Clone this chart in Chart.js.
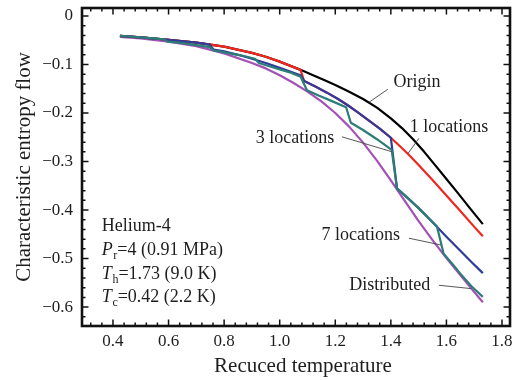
<!DOCTYPE html>
<html>
<head>
<meta charset="utf-8">
<script src="https://cdn.jsdelivr.net/npm/chart.js@4.4.1/dist/chart.umd.min.js"></script>
<style>
  html, body { margin: 0; padding: 0; background: #fff; }
</style>
</head>
<body>
<canvas id="chart" width="516" height="380"></canvas>
<script>
// values (reduced temperature vs characteristic entropy flow)
const originX = [0.425, 0.5, 0.6, 0.7, 0.8, 0.9, 0.95, 1.0, 1.075, 1.12, 1.16, 1.2, 1.25, 1.3, 1.35, 1.40, 1.44, 1.48, 1.52, 1.56, 1.60, 1.64, 1.68, 1.731];
const originY = [-0.041, -0.044, -0.049, -0.055, -0.063, -0.076, -0.084, -0.094, -0.111, -0.122, -0.132, -0.142, -0.156, -0.171, -0.189, -0.211, -0.231, -0.254, -0.280, -0.308, -0.336, -0.364, -0.393, -0.429];

const oneLocX = [0.425, 0.5, 0.6, 0.7, 0.8, 0.9, 0.95, 1.0, 1.075, 1.088, 1.13, 1.17, 1.21, 1.245, 1.28, 1.32, 1.36, 1.40, 1.43, 1.461, 1.50, 1.55, 1.60, 1.65, 1.69, 1.731];
const oneLocY = [-0.041, -0.044, -0.049, -0.055, -0.063, -0.076, -0.084, -0.094, -0.111, -0.134, -0.146, -0.158, -0.171, -0.184, -0.198, -0.215, -0.232, -0.251, -0.267, -0.284, -0.307, -0.338, -0.370, -0.402, -0.428, -0.454];

const threeLocX = [0.425, 0.5, 0.6, 0.7, 0.748, 0.762, 0.8, 0.85, 0.9, 0.95, 1.0, 1.04, 1.075, 1.088, 1.13, 1.17, 1.21, 1.245, 1.28, 1.32, 1.36, 1.40, 1.422, 1.46, 1.50, 1.55, 1.60, 1.65, 1.69, 1.731];
const threeLocY = [-0.041, -0.044, -0.049, -0.055, -0.059, -0.069, -0.073, -0.080, -0.088, -0.097, -0.107, -0.115, -0.122, -0.134, -0.146, -0.158, -0.171, -0.184, -0.198, -0.215, -0.232, -0.251, -0.355, -0.375, -0.396, -0.425, -0.455, -0.484, -0.507, -0.530];

const sevenLocX = [0.425, 0.5, 0.584, 0.597, 0.65, 0.7, 0.748, 0.762, 0.8, 0.86, 0.911, 0.925, 0.96, 1.0, 1.04, 1.075, 1.098, 1.14, 1.19, 1.239, 1.256, 1.30, 1.35, 1.403, 1.422, 1.46, 1.50, 1.535, 1.566, 1.590, 1.62, 1.65, 1.69, 1.731];
const sevenLocY = [-0.041, -0.044, -0.048, -0.053, -0.056, -0.060, -0.064, -0.071, -0.075, -0.081, -0.088, -0.097, -0.103, -0.110, -0.117, -0.125, -0.153, -0.164, -0.176, -0.188, -0.220, -0.235, -0.254, -0.276, -0.355, -0.375, -0.396, -0.416, -0.434, -0.490, -0.510, -0.531, -0.557, -0.579];

const distX = [0.425, 0.5, 0.6, 0.7, 0.8, 0.9, 0.95, 1.0, 1.05, 1.1, 1.15, 1.2, 1.25, 1.3, 1.35, 1.4, 1.45, 1.5, 1.55, 1.6, 1.65, 1.69, 1.731];
const distY = [-0.043, -0.046, -0.053, -0.062, -0.077, -0.097, -0.108, -0.122, -0.138, -0.156, -0.176, -0.200, -0.228, -0.261, -0.298, -0.339, -0.381, -0.423, -0.462, -0.499, -0.534, -0.562, -0.590];

const xTicks = [0.4, 0.6, 0.8, 1.0, 1.2, 1.4, 1.6, 1.8];
const yTicks = [0, -0.1, -0.2, -0.3, -0.4, -0.5, -0.6];

const FONT = "'Liberation Serif', 'Times New Roman', serif";
const INK = '#1e1e1e';

function series(label, xs, ys, color) {
  return {
    label: label,
    data: xs.map((x, i) => ({ x: x, y: ys[i] })),
    showLine: true,
    borderColor: color,
    borderWidth: 2.2,
    borderJoinStyle: 'round',
    pointRadius: 0,
    tension: 0,
    fill: false
  };
}

// callouts, placed in data units
const callouts = [
  { text: 'Origin', at: [1.494, -0.136], from: [1.389, -0.151], to: [1.321, -0.178] },
  { text: '1 locations', at: [1.609, -0.229], from: [1.501, -0.252], to: [1.461, -0.284] },
  { text: '3 locations', at: [1.055, -0.252], from: [1.224, -0.249], to: [1.405, -0.280] },
  { text: '7 locations', at: [1.292, -0.452], from: [1.465, -0.458], to: [1.580, -0.472] },
  { text: 'Distributed', at: [1.396, -0.555], from: [1.573, -0.555], to: [1.69, -0.562] }
];

// parameter block: [text, style] pieces, style '' | 'i' italic | 's' subscript
const paramLines = [
  [['Helium-4', '']],
  [['P', 'i'], ['r', 's'], ['=4 (0.91 MPa)', '']],
  [['T', 'i'], ['h', 's'], ['=1.73 (9.0 K)', '']],
  [['T', 'i'], ['c', 's'], ['=0.42 (2.2 K)', '']]
];

// minor ticks between the labelled ones
function minorTicks(scale, step) {
  const out = [];
  const start = Math.ceil(scale.min / step - 1e-6);
  for (let k = start; k * step <= scale.max + 1e-9; k++) out.push(+(k * step).toFixed(4));
  return out;
}

const frameTicks = {
  id: 'frameTicks',
  afterDatasetsDraw(chart) {
    const { ctx, chartArea: a, scales: { x, y } } = chart;
    ctx.save();
    ctx.strokeStyle = '#111';
    ctx.lineWidth = 1.5;
    ctx.beginPath();
    const mark = (px, py, dx, dy) => { ctx.moveTo(px, py); ctx.lineTo(px + dx, py + dy); };
    minorTicks(x, 0.04).forEach(v => {
      const p = x.getPixelForValue(v);
      const len = xTicks.some(t => Math.abs(t - v) < 1e-6) ? 6.5 : 3.5;
      mark(p, a.bottom, 0, -len); mark(p, a.top, 0, len);
    });
    minorTicks(y, 0.02).forEach(v => {
      const p = y.getPixelForValue(v);
      const len = yTicks.some(t => Math.abs(t - v) < 1e-6) ? 6.5 : 3.5;
      mark(a.left, p, len, 0); mark(a.right, p, -len, 0);
    });
    ctx.stroke();
    ctx.lineWidth = 2.6;
    ctx.strokeRect(a.left, a.top, a.right - a.left, a.bottom - a.top);
    ctx.restore();
  }
};

const notes = {
  id: 'notes',
  afterDraw(chart) {
    const { ctx, chartArea: a, scales: { x, y } } = chart;
    const px = p => [x.getPixelForValue(p[0]), y.getPixelForValue(p[1])];
    ctx.save();
    ctx.fillStyle = INK;
    ctx.strokeStyle = '#444';
    ctx.lineWidth = 0.9;
    ctx.font = '18px ' + FONT;
    ctx.textAlign = 'center';
    ctx.textBaseline = 'middle';
    callouts.forEach(c => {
      const [tx, ty] = px(c.at);
      ctx.fillText(c.text, tx, ty);
      const [x1, y1] = px(c.from);
      const [x2, y2] = px(c.to);
      ctx.beginPath(); ctx.moveTo(x1, y1); ctx.lineTo(x2, y2); ctx.stroke();
    });

    // x axis title sits a little right of the plot centre in the original
    ctx.font = '21px ' + FONT;
    ctx.fillText('Recuced temperature', (a.left + a.right) / 2 + 7, 366);

    ctx.textAlign = 'left';
    ctx.textBaseline = 'alphabetic';
    const left = x.getPixelForValue(0.36);
    const baselines = [-0.443, -0.493, -0.542, -0.590];
    paramLines.forEach((line, i) => {
      let cx = left;
      const by = y.getPixelForValue(baselines[i]);
      line.forEach(([t, s]) => {
        if (s === 'i') ctx.font = 'italic 18px ' + FONT;
        else if (s === 's') ctx.font = '12px ' + FONT;
        else ctx.font = '18px ' + FONT;
        ctx.fillText(t, cx, s === 's' ? by + 4 : by);
        cx += ctx.measureText(t).width + (s === 'i' ? 0.5 : 0);
      });
    });
    ctx.restore();
  }
};

new Chart(document.getElementById('chart'), {
  type: 'scatter',
  data: {
    datasets: [
      series('7 locations', sevenLocX, sevenLocY, '#2c7d78'),
      series('3 locations', threeLocX, threeLocY, '#2e3b98'),
      series('1 locations', oneLocX, oneLocY, '#f0261f'),
      series('Origin', originX, originY, '#000000'),
      series('Distributed', distX, distY, '#a450b6')
    ]
  },
  options: {
    responsive: false,
    animation: false,
    layout: { padding: { top: 8, right: 6, left: 0, bottom: 0 } },
    plugins: { legend: { display: false }, tooltip: { enabled: false } },
    scales: {
      x: {
        type: 'linear',
        min: 0.2885,
        max: 1.8288,
        grid: { display: false, drawTicks: false },
        border: { display: false },
        afterBuildTicks: s => { s.ticks = xTicks.map(v => ({ value: v })); },
        afterFit: s => { s.height = 54; s.paddingLeft = 0; s.paddingRight = 0; },
        ticks: {
          padding: 5, color: INK, autoSkip: false, maxRotation: 0,
          font: { family: FONT, size: 17 },
          callback: v => v.toFixed(1)
        },
        title: { display: false }
      },
      y: {
        type: 'linear',
        min: -0.639,
        max: 0.0165,
        grid: { display: false, drawTicks: false },
        border: { display: false },
        afterBuildTicks: s => { s.ticks = yTicks.map(v => ({ value: v })); },
        afterFit: s => { s.width = 82; s.paddingTop = 0; s.paddingBottom = 0; },
        ticks: {
          padding: 9, color: INK, autoSkip: false,
          font: { family: FONT, size: 17 },
          callback: v => (Math.abs(v) < 1e-9 ? '0' : '\u2212' + Math.abs(v).toFixed(1))
        },
        title: {
          display: true, text: 'Characteristic entropy flow', color: INK,
          font: { family: FONT, size: 21 }, padding: { top: 12, bottom: 0 }
        }
      }
    }
  },
  plugins: [frameTicks, notes]
});
</script>
</body>
</html>
